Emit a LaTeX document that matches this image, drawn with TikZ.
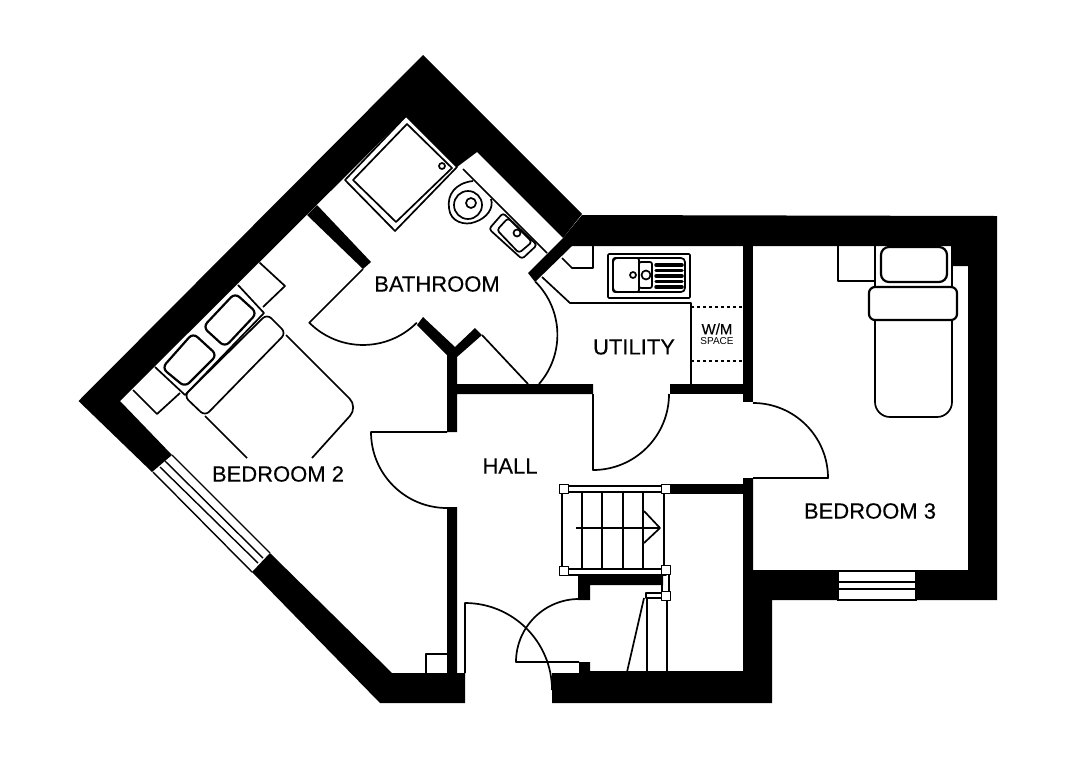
\documentclass[tikz,border=0pt]{standalone}
\usepackage{fontspec}
\setmainfont{Liberation Sans}
\newfontfamily\roomfont[FakeBold=0.25]{Liberation Sans}

\begin{document}
\begin{tikzpicture}[
    x=1pt, y=-1pt,
    wall/.style={fill=black},
    fitting/.style={draw, line width=1.7pt, line join=round},
    thick fitting/.style={draw, line width=2.2pt, line join=round},
    glass/.style={draw, line width=1.4pt},
    room/.style={inner sep=0pt, font=\roomfont\fontsize{22}{24}\selectfont}
]
  \useasboundingbox (0,0) rectangle (1075,780);

  % Walls
  \fill[wall] (152,472) -- (78.5,401) -- (423,55) -- (582,214) -- (563,238) -- (477,152) -- (457,167) -- (406,116) -- (120,401) -- (172,455) -- cycle;
  \fill[wall] (563,238) -- (582,215) -- (997,216) -- (997,600) -- (916,600) -- (916,570) -- (968,570) -- (968,266) -- (951,266) -- (951,246) -- (572,246) -- (535,282) -- (528,273) -- cycle;
  \fill[wall] (743,240) rectangle (753,402);
  \fill[wall] (743,478) -- (753,478) -- (753,570) -- (838,570) -- (838,600) -- (772,600) -- (772,703) -- (552,703) -- (552,673) -- (579,673) -- (579,662) -- (590,662) -- (590,672) -- (743,672) -- cycle;
  \fill[wall] (670,484) rectangle (743,494);
  \fill[wall] (578,575) -- (663,575) -- (663,585) -- (590,585) -- (590,600) -- (578,600) -- cycle;
  \fill[wall] (252,572) -- (270,553) -- (392,673) -- (447,673) -- (447,507) -- (457,507) -- (457,673) -- (465,673) -- (465,703) -- (380,703) -- cycle;
  \fill[wall] (417,325) -- (423,317) -- (455,347) -- (475,328) -- (482,335) -- (457,357) -- (457,384) -- (593,384) -- (593,394) -- (457,394) -- (457,432) -- (447,432) -- (447,355) -- cycle;
  \fill[wall] (670,384) rectangle (743,394);
  \fill[wall] (317,205) -- (371,262) -- (363,269) -- (307,215) -- cycle;

  % Windows
  \draw[glass] (172,455) -- (270,553);
  \draw[glass] (165,461) -- (263,558);
  \draw[glass] (160,467) -- (258,563);
  \draw[glass] (153,472) -- (252,572);
  \draw[glass] (838,571) rectangle (916,600);
  \draw[line width=2pt] (838,582) -- (916,582);
  \draw[line width=2pt] (838,589) -- (916,589);

  % Doors
  \draw[fitting] (363,269) -- (309.3,322.7) arc[start angle=225, end angle=315, radius=76pt];
  \draw[fitting] (482,335) -- (528,384);
  \draw[fitting] (539,384) arc[start angle=-41, end angle=45, radius=75pt];
  \draw[fitting] (593,394) -- (593,470) arc[start angle=270, end angle=360, radius=76pt];
  \draw[fitting] (753,403) arc[start angle=90, end angle=0, radius=75pt] -- (753,478);
  \draw[fitting] (447,432) -- (371,432) arc[start angle=180, end angle=270, radius=76pt];
  \draw[fitting] (465,673) -- (465,603) arc[start angle=90, end angle=0, radius=87pt];
  \draw[fitting] (579,662) -- (516,662) arc[start angle=180, end angle=90, radius=63pt];

  % Bathroom
  \draw[fitting] (345,180) -- (406,116) -- (457,167) -- (395,231) -- cycle;
  \draw[fitting] (353,180) -- (407,124) -- (452,168) -- (396,222) -- cycle;
  \draw[fitting] (442,166) circle[radius=3pt];
  \draw[fitting] (463,169) -- (547,253);
  \draw[fitting] (473,181) .. controls (455,183) and (447,195) .. (449,208) .. controls (450,222) and (465,226) .. (475,222) .. controls (487,218) and (494,208) .. (491,199);
  \draw[fitting] (468,205) circle[radius=14pt];
  \draw[fitting] (471,203) circle[radius=5pt];
  \draw[fitting, rounded corners=3pt] (489,229) -- (503,213) -- (537,245) -- (522,259) -- cycle;
  \draw[fitting, rounded corners=3pt] (497,230) -- (508,218) -- (532,242) -- (519,253) -- cycle;
  \draw[fitting] (517,233) circle[radius=3.5pt];

  % Utility
  \draw[fitting] (562,258) -- (572,268) -- (593,268) -- (593,246);
  \draw[fitting] (542,277) -- (570,303) -- (691,303) -- (691,384);
  \draw[fitting, dashed] (691,307) -- (743,307);
  \draw[fitting, dashed] (691,361) -- (743,361);
  \draw[fitting, rounded corners=1pt] (608,254) rectangle (690,298);
  \draw[fitting, rounded corners=4pt] (613,258) rectangle (685,292);
  \draw[fitting, rounded corners=2pt] (613,258) rectangle (639,292);
  \draw[fitting, rounded corners=2pt] (639,262) rectangle (652,288);
  \draw[fitting] (633,275) circle[radius=3pt];
  \draw[fitting] (646,275) circle[radius=4.5pt];
  \foreach \groove in {265,270.5,276,281.5,287}
    \draw[line width=3.5pt, line cap=round] (656,\groove) -- (682,\groove);

  % Bedroom 2
  \draw[fitting] (133,390) -- (157,414) -- (180,393);
  \draw[fitting] (155,367) -- (185,395) -- (264,313) -- (238,285);
  \draw[fitting] (259.5,262.5) -- (285,286) -- (263,307);
  \draw[thick fitting, rounded corners=6pt] (162,368) -- (193,333) -- (217,355) -- (185,387) -- cycle;
  \draw[thick fitting, rounded corners=6pt] (203,327) -- (235,293) -- (257,313) -- (225,347) -- cycle;
  \draw[fitting] (205,416) -- (247,458);
  \draw[fitting, rounded corners=12pt] (286,335) -- (358,407) -- (312,458);
  \draw[fitting, fill=white, rounded corners=6pt] (184,396) -- (267,314) -- (286,333) -- (205,416) -- cycle;

  % Bedroom 3
  \draw[fitting] (838,246) -- (838,281) -- (875,281);
  \draw[fitting, rounded corners=15pt] (875,246) -- (875,417) -- (952,417) -- (952,246);
  \draw[thick fitting, rounded corners=8pt] (881,247) rectangle (947,282);
  \draw[thick fitting, fill=white, rounded corners=6pt] (869,287) rectangle (957,320);

  % Stairs
  \draw[fitting] (562,489) -- (562,571);
  \draw[fitting] (664,489) -- (664,571);
  \draw[fitting] (564,486) rectangle (666,492);
  \draw[fitting] (564,569) rectangle (666,575);
  \foreach \tread in {582,602,623,643}
    \draw[fitting] (\tread,492) -- (\tread,569);
  \draw[fitting] (576,528) -- (660,528);
  \draw[fitting] (644,511) -- (660,528) -- (644,543);
  \draw[fitting] (662,573) rectangle (669,594);
  \draw[fitting] (646,593) rectangle (664,598);
  \draw[fitting] (647,598) -- (647,672);
  \draw[fitting] (667,600) -- (667,672);
  \draw[fitting] (644,598) -- (627,672);
  \foreach \px/\py in {564/489,666/489,564/571,666/570,666/596}
    \draw[fitting, fill=white] (\px-4.5,\py-4.5) rectangle (\px+4.5,\py+4.5);
  \draw[fitting] (426,673) -- (426,654) -- (447,654);
  \draw[fitting] (590,672) -- (743,672);

  % Labels
  \node[room] (bathroom) at (437,284) {BATHROOM};
  \node[room] (utility) at (634,347) {UTILITY};
  \node[room] (bedroomtwo) at (278,474) {BEDROOM 2};
  \node[room] (bedroomthree) at (870,511) {BEDROOM 3};
  \node[room] (hall) at (510,466) {HALL};
  \node[inner sep=0pt, font=\roomfont\fontsize{15}{17}\selectfont] (wm) at (717,329) {W/M};
  \node[inner sep=0pt, font=\fontsize{10}{12}\selectfont] (space) at (717,341) {SPACE};
\end{tikzpicture}
\end{document}
